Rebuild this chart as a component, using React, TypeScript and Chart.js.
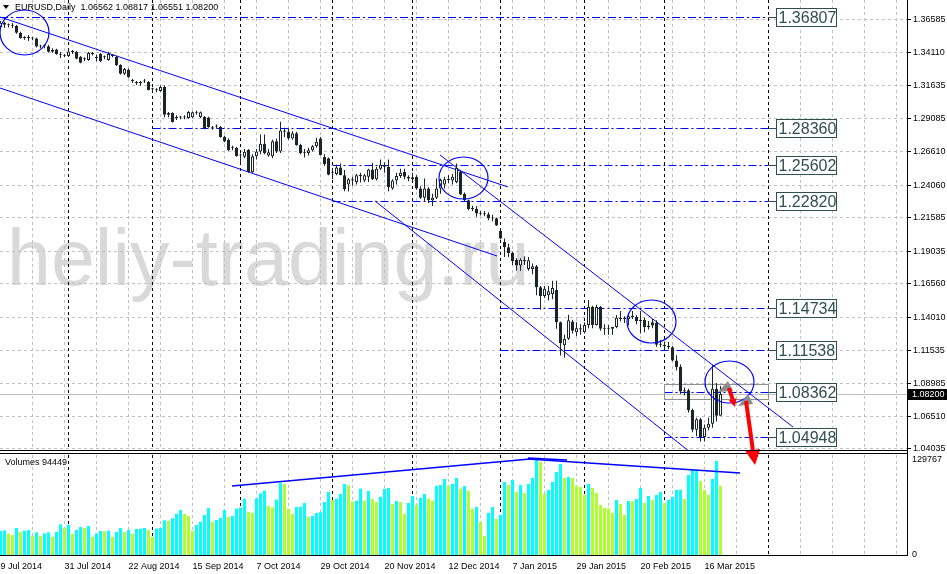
import React, { useEffect, useRef } from 'react';
import { Chart, registerables } from 'chart.js';

Chart.register(...registerables);

// ---------------- DATA ----------------
const symbolTitle = 'EURUSD,Daily  1.06562 1.08817 1.06551 1.08200';
const watermarkText = 'heliy-trading.ru';

const opens = [
  1.3606, 1.3638, 1.3622, 1.3616, 1.3614, 1.3562, 1.3522, 1.3524, 1.3521, 1.3518,
  1.3457, 1.3462, 1.3460, 1.3418, 1.3435, 1.3400, 1.3393, 1.3385, 1.3420, 1.3416,
  1.3380, 1.3360, 1.3355, 1.3402, 1.3372, 1.3400, 1.3378, 1.3355, 1.3388, 1.3378,
  1.3317, 1.3250, 1.3279, 1.3195, 1.3180, 1.3182, 1.3195, 1.3188, 1.3135, 1.3128,
  1.3120, 1.3150, 1.2940, 1.2952, 1.2915, 1.2918, 1.2920, 1.2915, 1.2920, 1.2958,
  1.2922, 1.2922, 1.2918, 1.2840, 1.2850, 1.2847, 1.2771, 1.2750, 1.2690, 1.2688,
  1.2632, 1.2620, 1.2672, 1.2505, 1.2625, 1.2660, 1.2720, 1.2630, 1.2625, 1.2738,
  1.2660, 1.2820, 1.2810, 1.2760, 1.2800, 1.2710, 1.2648, 1.2650, 1.2670, 1.2700,
  1.2760, 1.2620, 1.2610, 1.2500, 1.2490, 1.2540, 1.2480, 1.2410, 1.2450, 1.2430,
  1.2480, 1.2440, 1.2470, 1.2525, 1.2450, 1.2530, 1.2560, 1.2545, 1.2380, 1.2440,
  1.2475, 1.2505, 1.2470, 1.2450, 1.2470, 1.2380, 1.2310, 1.2380, 1.2290, 1.2310,
  1.2380, 1.2410, 1.2450, 1.2440, 1.2430, 1.2505, 1.2340, 1.2290, 1.2225, 1.2225,
  1.2190, 1.2190, 1.2185, 1.2155, 1.2155, 1.2060, 1.1975, 1.1935, 1.1890, 1.1840,
  1.1795, 1.1840, 1.1770, 1.1770, 1.1790, 1.1630, 1.1565, 1.1570, 1.1580, 1.1610,
  1.1365, 1.1190, 1.1240, 1.1370, 1.1290, 1.1320, 1.1290, 1.1345, 1.1480, 1.1345,
  1.1480, 1.1315, 1.1320, 1.1315, 1.1330, 1.1400, 1.1390, 1.1390, 1.1410, 1.1405,
  1.1375, 1.1385, 1.1330, 1.1365, 1.1360, 1.1195, 1.1195, 1.1185, 1.1175, 1.1075,
  1.1025, 1.0840, 1.0850, 1.0700, 1.0550, 1.0630, 1.0495, 1.0565, 1.0595, 1.0860,
  1.06562,
];
const highs = [
  1.3650, 1.3645, 1.3632, 1.3636, 1.3620, 1.3570, 1.3535, 1.3545, 1.3530, 1.3525,
  1.3470, 1.3475, 1.3468, 1.3445, 1.3440, 1.3415, 1.3400, 1.3444, 1.3430, 1.3424,
  1.3385, 1.3375, 1.3415, 1.3415, 1.3395, 1.3410, 1.3390, 1.3415, 1.3400, 1.3385,
  1.3322, 1.3295, 1.3290, 1.3210, 1.3195, 1.3195, 1.3210, 1.3195, 1.3145, 1.3140,
  1.3162, 1.3162, 1.2960, 1.2958, 1.2935, 1.2932, 1.2935, 1.2968, 1.2965, 1.2970,
  1.2965, 1.2930, 1.2925, 1.2855, 1.2865, 1.2855, 1.2780, 1.2760, 1.2705, 1.2695,
  1.2645, 1.2680, 1.2680, 1.2640, 1.2680, 1.2790, 1.2790, 1.2680, 1.2750, 1.2760,
  1.2887, 1.2840, 1.2835, 1.2815, 1.2810, 1.2720, 1.2680, 1.2690, 1.2710, 1.2765,
  1.2770, 1.2640, 1.2615, 1.2530, 1.2560, 1.2570, 1.2520, 1.2460, 1.2470, 1.2490,
  1.2500, 1.2490, 1.2530, 1.2575, 1.2545, 1.2600, 1.2580, 1.2600, 1.2450, 1.2500,
  1.2530, 1.2530, 1.2480, 1.2500, 1.2480, 1.2395, 1.2456, 1.2390, 1.2340, 1.2455,
  1.2455, 1.2470, 1.2480, 1.2490, 1.2570, 1.2520, 1.2350, 1.2295, 1.2250, 1.2245,
  1.2210, 1.2210, 1.2200, 1.2180, 1.2160, 1.2080, 1.2000, 1.1960, 1.1900, 1.1850,
  1.1850, 1.1865, 1.1860, 1.1810, 1.1800, 1.1640, 1.1640, 1.1640, 1.1680, 1.1680,
  1.1370, 1.1270, 1.1423, 1.1385, 1.1365, 1.1350, 1.1365, 1.1534, 1.1490, 1.1498,
  1.1488, 1.1350, 1.1345, 1.1330, 1.1420, 1.1450, 1.1410, 1.1430, 1.1450, 1.1420,
  1.1450, 1.1400, 1.1375, 1.1390, 1.1380, 1.1230, 1.1220, 1.1215, 1.1185, 1.1115,
  1.1045, 1.0870, 1.0860, 1.0710, 1.0640, 1.0640, 1.0590, 1.0640, 1.1043, 1.0905,
  1.08817,
];
const lows = [
  1.3597, 1.3600, 1.3601, 1.3598, 1.3555, 1.3516, 1.3508, 1.3500, 1.3505, 1.3450,
  1.3445, 1.3445, 1.3412, 1.3410, 1.3395, 1.3370, 1.3375, 1.3380, 1.3400, 1.3360,
  1.3330, 1.3345, 1.3350, 1.3390, 1.3345, 1.3340, 1.3360, 1.3350, 1.3375, 1.3310,
  1.3245, 1.3242, 1.3220, 1.3180, 1.3165, 1.3160, 1.3180, 1.3125, 1.3115, 1.3110,
  1.3115, 1.2920, 1.2920, 1.2880, 1.2900, 1.2905, 1.2905, 1.2910, 1.2915, 1.2940,
  1.2915, 1.2830, 1.2840, 1.2825, 1.2835, 1.2765, 1.2730, 1.2665, 1.2670, 1.2620,
  1.2570, 1.2610, 1.2500, 1.2500, 1.2600, 1.2640, 1.2640, 1.2620, 1.2610, 1.2650,
  1.2650, 1.2770, 1.2750, 1.2750, 1.2705, 1.2640, 1.2615, 1.2630, 1.2660, 1.2690,
  1.2630, 1.2550, 1.2480, 1.2450, 1.2480, 1.2480, 1.2360, 1.2358, 1.2400, 1.2410,
  1.2425, 1.2430, 1.2430, 1.2445, 1.2440, 1.2520, 1.2500, 1.2360, 1.2370, 1.2410,
  1.2460, 1.2450, 1.2435, 1.2435, 1.2370, 1.2300, 1.2280, 1.2270, 1.2247, 1.2300,
  1.2340, 1.2380, 1.2420, 1.2410, 1.2420, 1.2330, 1.2285, 1.2215, 1.2210, 1.2165,
  1.2175, 1.2170, 1.2140, 1.2130, 1.2095, 1.1995, 1.1860, 1.1860, 1.1800, 1.1755,
  1.1754, 1.1800, 1.1755, 1.1730, 1.1570, 1.1460, 1.1550, 1.1530, 1.1540, 1.1315,
  1.1113, 1.1098, 1.1230, 1.1280, 1.1260, 1.1270, 1.1280, 1.1320, 1.1320, 1.1340,
  1.1300, 1.1270, 1.1270, 1.1270, 1.1320, 1.1370, 1.1360, 1.1340, 1.1390, 1.1350,
  1.1280, 1.1290, 1.1310, 1.1320, 1.1180, 1.1175, 1.1160, 1.1160, 1.1070, 1.1000,
  1.0820, 1.0810, 1.0680, 1.0530, 1.0500, 1.0460, 1.0460, 1.0545, 1.0565, 1.0613,
  1.06551,
];
const closes = [
  1.3638, 1.3622, 1.3618, 1.3614, 1.3562, 1.3522, 1.3524, 1.3521, 1.3518, 1.3457,
  1.3462, 1.3460, 1.3418, 1.3430, 1.3400, 1.3395, 1.3388, 1.3420, 1.3416, 1.3365,
  1.3335, 1.3362, 1.3408, 1.3400, 1.3370, 1.3345, 1.3376, 1.3400, 1.3385, 1.3317,
  1.3250, 1.3287, 1.3226, 1.3197, 1.3182, 1.3180, 1.3192, 1.3128, 1.3133, 1.3126,
  1.3150, 1.2940, 1.2952, 1.2885, 1.2918, 1.2922, 1.2918, 1.2960, 1.2958, 1.2955,
  1.2958, 1.2838, 1.2845, 1.2838, 1.2852, 1.2771, 1.2736, 1.2672, 1.2692, 1.2627,
  1.2630, 1.2658, 1.2505, 1.2625, 1.2660, 1.2720, 1.2650, 1.2655, 1.2738, 1.2660,
  1.2820, 1.2810, 1.2760, 1.2800, 1.2710, 1.2648, 1.2650, 1.2670, 1.2700, 1.2735,
  1.2635, 1.2565, 1.2485, 1.2500, 1.2540, 1.2480, 1.2375, 1.2450, 1.2440, 1.2480,
  1.2475, 1.2480, 1.2525, 1.2450, 1.2530, 1.2560, 1.2545, 1.2390, 1.2440, 1.2475,
  1.2500, 1.2470, 1.2455, 1.2465, 1.2380, 1.2310, 1.2380, 1.2290, 1.2310, 1.2380,
  1.2445, 1.2450, 1.2445, 1.2470, 1.2535, 1.2335, 1.2290, 1.2225, 1.2225, 1.2190,
  1.2188, 1.2185, 1.2155, 1.2152, 1.2100, 1.2000, 1.1935, 1.1890, 1.1830, 1.1795,
  1.1840, 1.1830, 1.1835, 1.1790, 1.1630, 1.1565, 1.1620, 1.1600, 1.1625, 1.1365,
  1.1205, 1.1240, 1.1380, 1.1300, 1.1320, 1.1310, 1.1345, 1.1480, 1.1345, 1.1480,
  1.1315, 1.1320, 1.1315, 1.1330, 1.1400, 1.1390, 1.1400, 1.1410, 1.1405, 1.1375,
  1.1385, 1.1330, 1.1340, 1.1340, 1.1195, 1.1195, 1.1185, 1.1175, 1.1075, 1.1025,
  1.0840, 1.0850, 1.0700, 1.0550, 1.0630, 1.0495, 1.0565, 1.0595, 1.0860, 1.0656,
  1.08200,
];
const volumes = [
  32782, 33692, 29139, 27318, 36879, 31416, 33237, 34148, 25952, 30960,
  25952, 29595, 30960, 24586, 31416, 41888, 37335, 40977, 28684, 34148,
  38245, 36879, 39611, 24586, 29139, 32782, 32326, 33237, 24586, 31416,
  36879, 31416, 34148, 28684, 35513, 35969, 36879, 34148, 24586, 35969,
  36879, 47351, 46441, 50083, 56457, 61466, 56002, 53270, 32782, 40977,
  45530, 54636, 64197, 45075, 47807, 50538, 61466, 51904, 53270, 63287,
  64653, 76946, 58734, 57368, 77401, 84231, 87873, 66929, 65108, 75580,
  98345, 96979, 63287, 56002, 65563, 66019, 71027, 51904, 53270, 57368,
  58278, 72393, 86052, 75125, 76946, 83320, 96979, 95158, 72848, 74214,
  90605, 74214, 87418, 76946, 72393, 79222, 90149, 91515, 69661, 73759,
  72393, 56002, 71027, 80588, 68295, 77856, 83320, 76946, 74214, 94247,
  95613, 103808, 94247, 96979, 105174, 90605, 94247, 87873, 63287, 65563,
  45075, 25952, 57368, 65563, 49172, 54636, 99711, 95613, 102443, 86052,
  95613, 84686, 96979, 105174, 129767, 127029, 83320, 88784, 99711, 113370,
  124297, 105174, 106540, 105100, 94247, 92881, 81954, 96979, 91515, 84686,
  68295, 64197, 63742, 57368, 75125, 69661, 54636, 73759, 73303, 76490,
  91515, 71027, 80588, 75125, 81954, 86052, 71027, 75125, 79222, 88784,
  89239, 76490, 109272, 116102, 116557, 101077, 88784, 81954, 103808, 128500,
  94449,
];

// axes
const xTickLabels = [
  '9 Jul 2014', '31 Jul 2014', '22 Aug 2014', '15 Sep 2014', '7 Oct 2014', '29 Oct 2014',
  '20 Nov 2014', '12 Dec 2014', '7 Jan 2015', '29 Jan 2015', '20 Feb 2015', '16 Mar 2015',
];
const labelEveryBars = 16;
const gridEveryBars = 8;
const priceTicks = [
  1.36585, 1.3411, 1.31635, 1.29085, 1.2661, 1.2406, 1.21585, 1.19035,
  1.1656, 1.1401, 1.11535, 1.08985, 1.0651, 1.04035,
];
const volumeTicks = [0, 129767];
const barMin = -0.125;
const barMax = 226.625;
const priceMin = 1.03883;
const priceMax = 1.38102;
const volumeMax = 136600;
const currentPrice = 1.082;

// objects on the chart
const separatorBars = [17, 38, 60, 83, 103, 125, 146, 166, 192];
const levelPrices = [1.36807, 1.2836, 1.25602, 1.2282, 1.14734, 1.11538, 1.08362, 1.04948];
const levelStartBars = [-0.125, 38, 83, 83, 125, 125, 166, 166];
const levelEndBar = 192;
const levelLabelBar = 194;
// [bar1, price1, bar2, price2]
const trendLines = [
  [-0.125, 1.36813, 126.875, 1.23914],
  [-0.125, 1.31426, 124.125, 1.18679],
  [109.875, 1.26342, 198.125, 1.05705],
  [93.625, 1.22852, 172.375, 1.03808],
];
// [centre bar, centre price, radius bars, radius price]
const ellipses = [
  [6.0, 1.35637, 6.125, 0.01707],
  [115.75, 1.24597, 6.125, 0.01593],
  [162.75, 1.13709, 6.125, 0.01631],
  [182.25, 1.09119, 6.125, 0.01593],
];
const zoneRect = [165.875, 1.08968, 191.875, 1.0783];
const redArrows = [
  [182.125, 1.08664, 183.625, 1.07223],
  [186.375, 1.07677, 188.625, 1.02821],
];
const grayMarks = [
  [[179.375, 1.08359], [181.875, 1.09194], [183.125, 1.08436]],
  [[184.375, 1.07299], [186.875, 1.08209], [188.125, 1.0745]],
];
const volumeTrendLines = [
  [57.875, 94254, 132.375, 131136],
  [131.875, 131136, 184.875, 112012],
  [131.875, 132502, 141.625, 129770],
];

// ---------------- STYLE ----------------
const FONT = '"Liberation Sans", Arial, sans-serif';
const CANDLE = '#1a2626';
const GRID = '#c0c0c0';
const BLUE = '#0000ff';
const LABEL_INK = '#2f4f4f';
const VOL_UP = '#00ffff';
const VOL_DOWN = '#adff2f';

const gridTicks: number[] = [];
for (let v = 0; v <= barMax; v += gridEveryBars) gridTicks.push(v);

const noPad = (s: any) => {
  s.paddingTop = 0;
  s.paddingBottom = 0;
  s.paddingLeft = 0;
  s.paddingRight = 0;
};

const mainPlugin = {
  id: 'mainDecor',
  beforeDraw(chart: any) {
    const { ctx, chartArea: a } = chart;
    ctx.save();
    ctx.font = `79px ${FONT}`;
    ctx.fillStyle = '#d9d9d9';
    ctx.textBaseline = 'alphabetic';
    ctx.fillText(watermarkText, a.left + 7, a.top + 285);
    ctx.restore();
  },
  beforeDatasetsDraw(chart: any) {
    const { ctx, chartArea: a } = chart;
    const xs = chart.scales.x;
    const ys = chart.scales.y;
    const px = (b: number) => xs.getPixelForValue(b);
    const py = (p: number) => ys.getPixelForValue(p);
    ctx.save();
    ctx.beginPath();
    ctx.rect(a.left, a.top, a.right - a.left, a.bottom - a.top);
    ctx.clip();
    ctx.lineWidth = 1;
    ctx.strokeStyle = '#000';
    ctx.setLineDash([3, 3]);
    separatorBars.forEach((b) => {
      const x = px(b);
      ctx.beginPath();
      ctx.moveTo(x, a.top);
      ctx.lineTo(x, a.bottom);
      ctx.stroke();
    });
    ctx.setLineDash([]);
    ctx.strokeStyle = '#c0c0c0';
    const cy = Math.round(py(currentPrice)) + 0.5;
    ctx.beginPath();
    ctx.moveTo(a.left, cy);
    ctx.lineTo(a.right, cy);
    ctx.stroke();
    ctx.strokeStyle = BLUE;
    ctx.setLineDash([8, 3, 2, 3]);
    levelPrices.forEach((p, i) => {
      const y = Math.round(py(p)) + 0.5;
      ctx.beginPath();
      ctx.moveTo(px(levelStartBars[i]), y);
      ctx.lineTo(px(levelEndBar), y);
      ctx.stroke();
    });
    ctx.setLineDash([]);
    ctx.strokeStyle = '#909090';
    const rx1 = Math.round(px(zoneRect[0])) + 0.5;
    const rx2 = Math.round(px(zoneRect[2])) + 0.5;
    const ry1 = Math.round(py(zoneRect[1])) + 0.5;
    const ry2 = Math.round(py(zoneRect[3])) + 0.5;
    ctx.strokeRect(rx1, ry1, rx2 - rx1, ry2 - ry1);
    ctx.strokeStyle = BLUE;
    trendLines.forEach(([b1, p1, b2, p2]) => {
      ctx.beginPath();
      ctx.moveTo(px(b1), py(p1));
      ctx.lineTo(px(b2), py(p2));
      ctx.stroke();
    });
    ctx.restore();
  },
  afterDatasetsDraw(chart: any) {
    const { ctx } = chart;
    const xs = chart.scales.x;
    const ys = chart.scales.y;
    const px = (b: number) => xs.getPixelForValue(b);
    const py = (p: number) => ys.getPixelForValue(p);
    ctx.save();
    ctx.strokeStyle = BLUE;
    ctx.lineWidth = 1.2;
    ellipses.forEach(([cb, cp, rb, rp]) => {
      const cx = px(cb);
      const cy = py(cp);
      const rx = Math.abs(px(cb + rb) - cx);
      const ry = Math.abs(py(cp + rp) - cy);
      ctx.beginPath();
      ctx.ellipse(cx, cy, rx, ry, 0, 0, Math.PI * 2);
      ctx.stroke();
    });
    ctx.fillStyle = '#8c8c8c';
    grayMarks.forEach((tri) => {
      ctx.beginPath();
      tri.forEach(([b, p], i) => (i ? ctx.lineTo(px(b), py(p)) : ctx.moveTo(px(b), py(p))));
      ctx.closePath();
      ctx.fill();
    });
    ctx.strokeStyle = '#ff0000';
    ctx.fillStyle = '#ff0000';
    const heads = [8, 15];
    redArrows.forEach(([b1, p1, b2, p2], k) => {
      const x1 = px(b1), y1 = py(p1), x2 = px(b2), y2 = py(p2);
      const h = heads[k];
      const ang = Math.atan2(y2 - y1, x2 - x1);
      const bx = x2 - h * Math.cos(ang);
      const by = y2 - h * Math.sin(ang);
      ctx.lineWidth = 4;
      ctx.beginPath();
      ctx.moveTo(x1, y1);
      ctx.lineTo(bx, by);
      ctx.stroke();
      ctx.beginPath();
      ctx.moveTo(x2, y2);
      ctx.lineTo(bx + (h / 2) * Math.sin(ang), by - (h / 2) * Math.cos(ang));
      ctx.lineTo(bx - (h / 2) * Math.sin(ang), by + (h / 2) * Math.cos(ang));
      ctx.closePath();
      ctx.fill();
    });
    ctx.restore();
  },
  afterDraw(chart: any) {
    const { ctx, chartArea: a, width } = chart;
    const xs = chart.scales.x;
    const ys = chart.scales.y;
    const px = (b: number) => xs.getPixelForValue(b);
    const py = (p: number) => ys.getPixelForValue(p);
    ctx.save();
    const boxX = Math.round(px(levelLabelBar)) - 0.5;
    const boxW = 60;
    const boxH = 18;
    ctx.font = `16px ${FONT}`;
    ctx.textBaseline = 'middle';
    ctx.textAlign = 'left';
    levelPrices.forEach((p) => {
      const y = Math.round(py(p)) + 0.5;
      ctx.strokeStyle = LABEL_INK;
      ctx.lineWidth = 1;
      ctx.setLineDash([]);
      ctx.beginPath();
      ctx.moveTo(px(levelEndBar), y);
      ctx.lineTo(boxX, y);
      ctx.stroke();
      ctx.fillStyle = '#ffffff';
      ctx.fillRect(boxX, y - boxH / 2, boxW, boxH);
      ctx.strokeRect(boxX, y - boxH / 2, boxW, boxH);
      ctx.fillStyle = LABEL_INK;
      ctx.fillText(p.toFixed(5), boxX + 2, y + 1);
    });
    ctx.fillStyle = '#000';
    ctx.beginPath();
    ctx.moveTo(3, 5);
    ctx.lineTo(9, 5);
    ctx.lineTo(6, 9);
    ctx.closePath();
    ctx.fill();
    ctx.font = `9px ${FONT}`;
    ctx.textBaseline = 'middle';
    ctx.fillText(symbolTitle, 15, 8);
    ctx.strokeStyle = '#000';
    ctx.beginPath();
    ctx.moveTo(a.left, a.bottom - 0.5);
    ctx.lineTo(a.right, a.bottom - 0.5);
    ctx.moveTo(a.right + 0.5, a.bottom - 1);
    ctx.lineTo(a.right + 0.5, a.bottom + 5);
    ctx.stroke();
    const cy = Math.round(py(currentPrice));
    ctx.fillStyle = '#000';
    ctx.fillRect(a.right + 1, cy - 5, width - a.right - 1, 11);
    ctx.fillStyle = '#fff';
    ctx.font = `9px ${FONT}`;
    ctx.fillText(currentPrice.toFixed(5), a.right + 5, cy + 0.5);
    ctx.restore();
  },
};

const volPlugin = {
  id: 'volDecor',
  beforeDatasetsDraw(chart: any) {
    const { ctx, chartArea: a } = chart;
    const xs = chart.scales.x;
    ctx.save();
    ctx.strokeStyle = '#000';
    ctx.lineWidth = 1;
    ctx.setLineDash([3, 3]);
    separatorBars.forEach((b) => {
      const x = xs.getPixelForValue(b);
      ctx.beginPath();
      ctx.moveTo(x, a.top);
      ctx.lineTo(x, a.bottom);
      ctx.stroke();
    });
    ctx.restore();
  },
  afterDatasetsDraw(chart: any) {
    const { ctx, chartArea: a } = chart;
    const xs = chart.scales.x;
    const ys = chart.scales.y;
    ctx.save();
    ctx.strokeStyle = BLUE;
    ctx.lineWidth = 1.4;
    volumeTrendLines.forEach(([b1, v1, b2, v2]) => {
      ctx.beginPath();
      ctx.moveTo(xs.getPixelForValue(b1), ys.getPixelForValue(v1));
      ctx.lineTo(xs.getPixelForValue(b2), ys.getPixelForValue(v2));
      ctx.stroke();
    });
    ctx.fillStyle = '#000';
    ctx.font = `9px ${FONT}`;
    ctx.textBaseline = 'middle';
    ctx.fillText(`Volumes ${volumes[volumes.length - 1]}`, a.left + 5, a.top + 8);
    ctx.strokeStyle = '#000';
    ctx.lineWidth = 1;
    ctx.beginPath();
    ctx.moveTo(a.left, a.top - 1.5);
    ctx.lineTo(a.right, a.top - 1.5);
    ctx.stroke();
    ctx.restore();
  },
};

export default function App() {
  const mainRef = useRef<HTMLCanvasElement | null>(null);
  const volRef = useRef<HTMLCanvasElement | null>(null);

  useEffect(() => {
    const idx = closes.map((_, i) => i);
    const bodyData = idx.map((i) => ({ x: i, y: [Math.min(opens[i], closes[i]), Math.max(opens[i], closes[i])] }));
    const wickData = idx.map((i) => ({ x: i, y: [lows[i], highs[i]] }));
    const bodyFill = idx.map((i) => (closes[i] >= opens[i] ? '#ffffff' : CANDLE));
    const volColors = idx.map((i) => (i === 0 || volumes[i] > volumes[i - 1] ? VOL_UP : VOL_DOWN));

    const xCommon = {
      type: 'linear' as const,
      min: barMin,
      max: barMax,
      offset: false,
      afterBuildTicks: (s: any) => {
        s.ticks = gridTicks.map((v) => ({ value: v }));
      },
    };

    const main = new Chart(mainRef.current as HTMLCanvasElement, {
      type: 'bar',
      data: {
        datasets: [
          {
            data: bodyData as any,
            backgroundColor: bodyFill,
            borderColor: CANDLE,
            borderWidth: 1,
            borderSkipped: false,
            barThickness: 3,
            minBarLength: 1,
            grouped: false,
            inflateAmount: 0,
            order: 0,
          } as any,
          {
            data: wickData as any,
            backgroundColor: CANDLE,
            borderWidth: 0,
            barThickness: 1,
            grouped: false,
            inflateAmount: 0,
            order: 1,
          } as any,
        ],
      },
      options: {
        animation: false,
        responsive: false,
        maintainAspectRatio: false,
        layout: { padding: { left: 0, right: 0, top: 0, bottom: 123 } },
        plugins: { legend: { display: false }, tooltip: { enabled: false } },
        scales: {
          x: {
            ...xCommon,
            afterFit: (s: any) => {
              s.height = 0;
              noPad(s);
            },
            ticks: { display: false },
            grid: {
              offset: false,
              drawTicks: false,
              color: (c: any) => (c.tick && c.tick.value === 0 ? 'rgba(0,0,0,0)' : GRID),
            },
            border: { display: false, dash: [3, 3] },
          } as any,
          y: {
            type: 'linear',
            position: 'right',
            min: priceMin,
            max: priceMax,
            afterBuildTicks: (s: any) => {
              s.ticks = priceTicks.map((v) => ({ value: v }));
            },
            afterFit: (s: any) => {
              s.width = 40;
              noPad(s);
            },
            ticks: {
              autoSkip: false,
              color: '#000',
              padding: 2,
              font: { family: FONT, size: 9 },
              callback: (v: any) => Number(v).toFixed(5),
            },
            grid: { color: GRID, tickColor: '#000', tickLength: 4, tickBorderDash: [] },
            border: { display: true, color: '#000', dash: [3, 3] },
          } as any,
        },
      },
      plugins: [mainPlugin],
    });

    const vol = new Chart(volRef.current as HTMLCanvasElement, {
      type: 'bar',
      data: {
        datasets: [
          {
            data: idx.map((i) => ({ x: i, y: volumes[i] })) as any,
            backgroundColor: volColors,
            borderWidth: 0,
            barThickness: 3,
            grouped: false,
            inflateAmount: 0,
          } as any,
        ],
      },
      options: {
        animation: false,
        responsive: false,
        maintainAspectRatio: false,
        layout: { padding: { left: 0, right: 0, top: 2, bottom: 0 } },
        plugins: { legend: { display: false }, tooltip: { enabled: false } },
        scales: {
          x: {
            ...xCommon,
            afterFit: (s: any) => {
              s.height = 19;
              noPad(s);
            },
            ticks: {
              autoSkip: false,
              maxRotation: 0,
              minRotation: 0,
              align: 'start',
              padding: 6,
              color: '#000',
              font: { family: FONT, size: 9 },
              callback: (v: any) => {
                const n = Number(v);
                return n % labelEveryBars === 0 ? xTickLabels[n / labelEveryBars] ?? '' : '';
              },
            },
            grid: {
              offset: false,
              drawTicks: false,
              color: (c: any) => (c.tick && c.tick.value === 0 ? 'rgba(0,0,0,0)' : GRID),
            },
            border: { display: true, color: '#000', dash: [3, 3] },
          } as any,
          y: {
            type: 'linear',
            position: 'right',
            min: 0,
            max: volumeMax,
            afterBuildTicks: (s: any) => {
              s.ticks = volumeTicks.map((v) => ({ value: v }));
            },
            afterFit: (s: any) => {
              s.width = 40;
              noPad(s);
            },
            ticks: {
              autoSkip: false,
              color: '#000',
              padding: 5,
              font: { family: FONT, size: 9 },
              callback: (v: any) => String(v),
            },
            grid: { display: false, drawTicks: false },
            border: { display: true, color: '#000' },
          } as any,
        },
      },
      plugins: [volPlugin],
    });

    return () => {
      main.destroy();
      vol.destroy();
    };
  }, []);

  return (
    <div style={{ position: 'fixed', left: 0, top: 0, width: 947, height: 574, background: '#fff' }}>
      <canvas ref={volRef} width={947} height={121} style={{ position: 'absolute', left: 0, top: 453 }} />
      <canvas ref={mainRef} width={947} height={574} style={{ position: 'absolute', left: 0, top: 0 }} />
    </div>
  );
}
